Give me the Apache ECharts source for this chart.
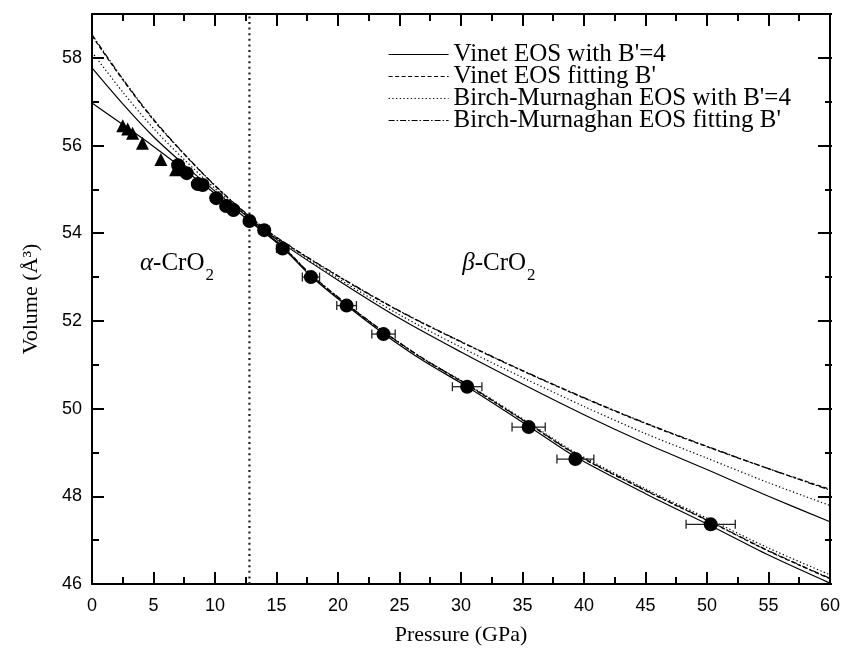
<!DOCTYPE html>
<html>
<head>
<meta charset="utf-8">
<script src="https://cdn.jsdelivr.net/npm/echarts@6/dist/echarts.min.js"></script>
<style>
  html, body { margin: 0; padding: 0; background: #fff; }
  #chart { width: 843px; height: 654px; }
</style>
</head>
<body>
<div id="chart"></div>
<script>
// ---- measured P–V data of CrO2 ----
// alpha phase, first run (triangles)
const triPressure = [2.5, 2.9, 3.3, 4.1, 5.6, 6.8];
const triVolume   = [56.45, 56.38, 56.28, 56.05, 55.68, 55.45];

// alpha + beta phase, second run (circles) with pressure error
const circPressure = [7.0, 7.7, 8.6, 9.0, 10.1, 10.9, 11.5, 12.8, 14.0, 15.5, 17.8, 20.7, 23.7, 30.5, 35.5, 39.3, 50.3];
const circVolume   = [55.55, 55.37, 55.12, 55.10, 54.80, 54.62, 54.53, 54.28, 54.07, 53.65, 53.00, 52.35, 51.70, 50.50, 49.58, 48.85, 47.36];
const circPressErr = [0, 0, 0, 0, 0, 0, 0, 0, 0.4, 0.5, 0.7, 0.8, 0.95, 1.2, 1.35, 1.5, 2.0];

// phase boundary (GPa)
const transitionPressure = [12.8];

// ---- EOS curves, upper family ----
const upperP = [0, 2.5, 5, 7.5, 10, 12.5, 15, 20, 25, 30, 35, 40, 45, 50, 55, 60];
const upperVinetB4   = [57.77, 56.95, 56.20, 55.56, 54.96, 54.41, 53.86, 52.93, 52.06, 51.29, 50.56, 49.86, 49.21, 48.61, 48.00, 47.42];
const upperVinetFit  = [58.50, 57.50, 56.58, 55.80, 55.08, 54.45, 53.90, 53.02, 52.22, 51.52, 50.86, 50.24, 49.66, 49.13, 48.63, 48.16];
const upperBMB4      = [58.13, 57.22, 56.39, 55.68, 55.02, 54.43, 53.88, 52.97, 52.14, 51.40, 50.71, 50.05, 49.43, 48.87, 48.31, 47.79];
const upperBMFit     = [58.53, 57.52, 56.60, 55.81, 55.09, 54.46, 53.91, 53.03, 52.23, 51.53, 50.87, 50.25, 49.67, 49.14, 48.63, 48.14];

// ---- EOS curves, lower family ----
const lowerSolidP = [0, 2.5, 5, 7.5, 10, 12.8, 15.5, 17.8, 20.7, 23.7, 27, 30.5, 35.5, 39.3, 45, 50.3, 55, 60];
const lowerVinetB4 = [56.97, 56.48, 55.98, 55.45, 54.90, 54.28, 53.67, 53.02, 52.35, 51.71, 51.08, 50.50, 49.60, 48.90, 48.06, 47.33, 46.66, 46.02];
const lowerP = [12.8, 15.5, 17.8, 20.7, 23.7, 27, 30.5, 35.5, 39.3, 45, 50.3, 55, 60];
const lowerVinetFit = [54.30, 53.69, 53.05, 52.38, 51.75, 51.12, 50.54, 49.65, 48.96, 48.13, 47.41, 46.75, 46.12];
const lowerBMB4     = [54.30, 53.69, 53.05, 52.38, 51.75, 51.13, 50.56, 49.68, 49.00, 48.17, 47.46, 46.82, 46.21];
const lowerBMFit    = [54.31, 53.70, 53.06, 52.39, 51.76, 51.13, 50.55, 49.66, 48.97, 48.14, 47.42, 46.76, 46.13];

// legend names
const nameVinetB4  = "Vinet EOS with B'=4";
const nameVinetFit = "Vinet EOS fitting B'";
const nameBMB4     = "Birch-Murnaghan EOS with B'=4";
const nameBMFit    = "Birch-Murnaghan EOS fitting B'";

const SERIF = "'Liberation Serif', 'Times New Roman', serif";
const SANS = "'Liberation Sans', Arial, sans-serif";

const zip = (xs, ys) => xs.map((x, i) => [x, ys[i]]);

const dashStyles = {
  [nameVinetB4]:  'solid',
  [nameVinetFit]: [4, 2.5],
  [nameBMB4]:     [1.3, 2.4],
  [nameBMFit]:    [6, 2, 1.5, 2]
};

function curve(name, xs, ys) {
  return {
    type: 'line', name: name, data: zip(xs, ys),
    xAxisIndex: 0, yAxisIndex: 0,
    smooth: 0.3, symbol: 'none', showSymbol: false, silent: true, z: 3,
    color: '#000',
    itemStyle: { color: '#000' },
    lineStyle: { color: '#000', width: 1.2, type: dashStyles[name] }
  };
}

const errData = circPressure
  .map((p, i) => [p, circVolume[i], circPressErr[i]])
  .filter(d => d[2] > 0);

const tickLine = { color: '#000', width: 2 };

function xAxisDef(pos, gridIndex, show) {
  return {
    type: 'value', gridIndex: gridIndex, position: pos, show: show,
    min: 0, max: 60, interval: 5,
    axisLine: { show: true, onZero: false, lineStyle: tickLine },
    axisTick: { show: true, inside: true, length: 12, lineStyle: tickLine },
    minorTick: { show: true, splitNumber: 2, length: 7, lineStyle: tickLine },
    splitLine: { show: false }, minorSplitLine: { show: false },
    axisLabel: { show: pos === 'bottom', color: '#000', fontFamily: SANS, fontSize: 18, margin: 13 },
    name: pos === 'bottom' ? 'Pressure (GPa)' : '',
    nameLocation: 'middle', nameGap: 40,
    nameTextStyle: { color: '#000', fontFamily: SERIF, fontSize: 22 }
  };
}

function yAxisDef(pos, gridIndex, interval, tickLen, withLine) {
  const labelled = pos === 'left' && gridIndex === 0;
  return {
    type: 'value', gridIndex: gridIndex, position: pos,
    min: 46, max: 59, interval: interval,
    axisLine: { show: withLine, onZero: false, lineStyle: tickLine },
    axisTick: { show: true, inside: true, length: tickLen, lineStyle: tickLine },
    minorTick: { show: false },
    splitLine: { show: false },
    axisLabel: { show: labelled, color: '#000', fontFamily: SANS, fontSize: 18, margin: 10, showMaxLabel: false },
    name: labelled ? 'Volume (Å³)' : '',
    nameLocation: 'middle', nameRotate: 90, nameGap: 50,
    nameTextStyle: { color: '#000', fontFamily: SERIF, fontSize: 22 }
  };
}

const gridRect = { left: 92, right: 11, top: 14, bottom: 70 };

const chart = echarts.init(document.getElementById('chart'), null, { renderer: 'canvas' });

chart.setOption({
  animation: false,
  backgroundColor: '#fff',
  grid: [Object.assign({}, gridRect), Object.assign({}, gridRect)],
  xAxis: [
    xAxisDef('bottom', 0, true),
    xAxisDef('top', 0, true),
    Object.assign(xAxisDef('bottom', 1, false), { show: false })
  ],
  yAxis: [
    yAxisDef('left', 0, 2, 12, true),
    yAxisDef('right', 0, 2, 12, true),
    yAxisDef('left', 1, 1, 7, false),
    yAxisDef('right', 1, 1, 7, false)
  ],
  legend: {
    data: [nameVinetB4, nameVinetFit, nameBMB4, nameBMFit],
    orient: 'vertical', left: 383, top: 37,
    padding: 5,
    itemWidth: 60, itemHeight: 12, itemGap: -3,
    selectedMode: false,
    itemStyle: { opacity: 0 },
    lineStyle: { width: 1.2, color: '#000' },
    textStyle: { color: '#000', fontFamily: SERIF, fontSize: 25, lineHeight: 22.5 }
  },
  series: [
    curve(nameVinetB4, upperP, upperVinetB4),
    curve(nameVinetFit, upperP, upperVinetFit),
    curve(nameBMB4, upperP, upperBMB4),
    curve(nameBMFit, upperP, upperBMFit),
    curve(nameVinetB4, lowerSolidP, lowerVinetB4),
    curve(nameVinetFit, lowerP, lowerVinetFit),
    curve(nameBMB4, lowerP, lowerBMB4),
    curve(nameBMFit, lowerP, lowerBMFit),
    {
      type: 'line', name: 'transition', silent: true, symbol: 'none', z: 2,
      data: [[transitionPressure[0], 46], [transitionPressure[0], 59]],
      lineStyle: { color: '#222', width: 2.2, type: [2, 3.6] }
    },
    {
      type: 'custom', name: 'error', silent: true, z: 4,
      data: errData,
      encode: { x: 0, y: 1 },
      renderItem: function (params, api) {
        const p = api.value(0), v = api.value(1), e = api.value(2);
        const a = api.coord([p - e, v]);
        const b = api.coord([p + e, v]);
        const h = 4.5;
        const st = { stroke: '#222', lineWidth: 1.3 };
        return {
          type: 'group',
          children: [
            { type: 'line', shape: { x1: a[0], y1: a[1], x2: b[0], y2: b[1] }, style: st },
            { type: 'line', shape: { x1: a[0], y1: a[1] - h, x2: a[0], y2: a[1] + h }, style: st },
            { type: 'line', shape: { x1: b[0], y1: b[1] - h, x2: b[0], y2: b[1] + h }, style: st }
          ]
        };
      }
    },
    {
      type: 'scatter', name: 'run1', silent: true, z: 5,
      symbol: 'triangle', symbolSize: 13,
      data: zip(triPressure, triVolume),
      itemStyle: { color: '#000', opacity: 1 }
    },
    {
      type: 'scatter', name: 'run2', silent: true, z: 6,
      symbol: 'circle', symbolSize: 14,
      data: zip(circPressure, circVolume),
      itemStyle: { color: '#000', opacity: 1 }
    }
  ]
});

// phase labels: italic Greek letter, formula, lowered subscript
const measureCtx = document.createElement('canvas').getContext('2d');
function textWidth(str, font) { measureCtx.font = font; return measureCtx.measureText(str).width; }

function phaseLabel(greek, at) {
  const size = 25, subSize = 17;
  const pos = chart.convertToPixel({ xAxisIndex: 0, yAxisIndex: 0 }, at);
  const wGreek = textWidth(greek, 'italic ' + size + 'px ' + SERIF);
  const wRest = textWidth('-CrO', size + 'px ' + SERIF);
  return [
    {
      type: 'text', x: pos[0], y: pos[1], silent: true,
      style: {
        text: '{g|' + greek + '}{n|-CrO}',
        textVerticalAlign: 'bottom', textAlign: 'left',
        rich: {
          g: { fontFamily: SERIF, fontStyle: 'italic', fontSize: size, fill: '#000', lineHeight: size },
          n: { fontFamily: SERIF, fontSize: size, fill: '#000', lineHeight: size }
        }
      }
    },
    {
      type: 'text', x: pos[0] + wGreek + wRest + 1, y: pos[1] + 8, silent: true,
      style: { text: '2', fontFamily: SERIF, fontSize: subSize, fill: '#000', textVerticalAlign: 'bottom', textAlign: 'left' }
    }
  ];
}

const alphaLabelAt = [3.9, 53.03];
const betaLabelAt = [30.1, 53.03];
chart.setOption({ graphic: phaseLabel('α', alphaLabelAt).concat(phaseLabel('β', betaLabelAt)) });
</script>
</body>
</html>
